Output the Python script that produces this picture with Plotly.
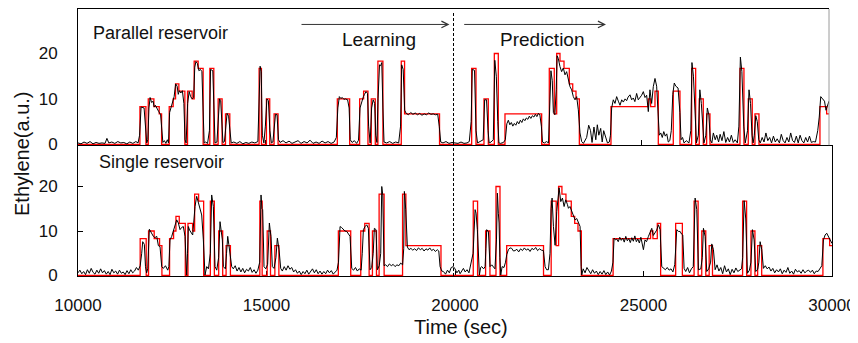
import plotly.graph_objects as go

# ---------------- data ----------------
# Target ethylene concentration (step function: value holds from each time until the next)
target_t = [10000, 11649, 11809, 11871, 12021, 12163, 12226, 12429, 12535, 12598, 12686, 12846,
            12917, 13040, 13094, 13200, 13333, 13511, 13617, 13732, 13838, 13928, 14043,
            14823, 14885, 15018, 15106, 15222, 15328, 16906, 17234, 17500, 17606, 17722,
            17810, 17917, 17987, 18120, 18609, 18697, 19628,
            20484, 20599, 20812, 20927, 21087, 21193, 21371, 22348,
            22551, 22684, 22748, 22836, 22943, 23084, 23175, 23262, 23351,
            24194, 25188, 25250, 25366, 25454, 25853, 26031, 26342, 26449, 26545, 26652,
            26742, 26830, 27629, 27735, 27850, 27956, 28028, 28135, 29759, 29937, 30000]
target_v = [0, 8.3, 0, 10, 8.3, 6.7, 0, 8.3, 10, 13.3, 11.7, 0,
            11.7, 10, 18.3, 16.7, 0, 16.7, 0, 10, 0, 6.7, 0,
            16.7, 0, 10, 0, 6.7, 0, 10, 0, 10, 11.7, 0,
            10, 0, 18.3, 0, 18.3, 6.7, 0,
            16.7, 0, 10, 0, 20, 0, 6.7, 0,
            16.7, 6.7, 20, 18.3, 16.7, 13.3, 11.7, 10, 0,
            8.3, 10, 8.3, 11.7, 0, 11.7, 0, 16.7, 0, 10, 0,
            6.7, 0, 16.7, 0, 10, 0, 6.7, 0, 8.3, 6.7, 6.7]

# Parallel reservoir output
par_t = [10000, 10080, 10160, 10240, 10320, 10400, 10480, 10560, 10640, 10720, 10770, 10820, 10900, 10980,
         11060, 11140, 11220, 11300, 11380, 11460, 11540, 11600, 11640, 11680, 11760, 11800, 11830, 11860,
         11890, 11920, 11960, 12000, 12030, 12060, 12100, 12150, 12200, 12230, 12260, 12300, 12340, 12380,
         12410, 12440, 12480, 12520, 12560, 12600, 12640, 12670, 12700, 12740, 12780, 12820, 12850, 12880,
         12920, 12960, 13000, 13040, 13080, 13110, 13140, 13180, 13220, 13260, 13300, 13330, 13360, 13400,
         13450, 13500, 13530, 13590, 13620, 13650, 13700, 13740, 13770, 13800, 13830, 13860, 13900, 13940,
         13970, 14010, 14050, 14080, 14150, 14230, 14310, 14390, 14470, 14550, 14630, 14710, 14790, 14830,
         14850, 14880, 14910, 14950, 14990, 15030, 15070, 15110, 15150, 15190, 15230, 15260, 15300, 15340,
         15380, 15460, 15540, 15620, 15700, 15780, 15860, 15940, 16020, 16100, 16180, 16260, 16340, 16420,
         16500, 16580, 16660, 16740, 16820, 16880, 16920, 16960, 17000, 17040, 17080, 17120, 17180, 17220,
         17250, 17300, 17360, 17420, 17470, 17510, 17560, 17600, 17630, 17670, 17710, 17740, 17780, 17820,
         17860, 17900, 17930, 17960, 17990, 18030, 18060, 18090, 18120, 18150, 18220, 18300, 18380, 18460,
         18540, 18590, 18620, 18660, 18700, 18740, 18800, 18860, 18920, 18980, 19040, 19100, 19160, 19220,
         19280, 19340, 19400, 19460, 19520, 19580, 19620, 19660, 19720, 19800, 19880, 19960,
         20040, 20120, 20200, 20280, 20360, 20420, 20470, 20500, 20560, 20600, 20640, 20700, 20790, 20830,
         20880, 20920, 20950, 21000, 21060, 21100, 21140, 21180, 21210, 21250, 21330, 21380, 21420, 21460,
         21500, 21540, 21580, 21620, 21660, 21700, 21740, 21780, 21820, 21860, 21900, 21940, 21980, 22020,
         22060, 22100, 22140, 22180, 22220, 22260, 22300, 22340, 22370, 22420, 22480, 22530, 22560, 22595,
         22630, 22660, 22700, 22735, 22760, 22791, 22836, 22880, 22924, 22969, 23013, 23058, 23102, 23146,
         23191, 23235, 23280, 23324, 23368, 23413, 23460, 23546, 23600, 23650, 23690, 23740, 23790, 23830,
         23870, 23920, 23960, 24000, 24050, 24100, 24150, 24180, 24212, 24256, 24300, 24345, 24390, 24434,
         24480, 24522, 24570, 24611, 24650, 24700, 24745, 24789, 24830, 24877, 24920, 24966, 25010, 25055,
         25100, 25144, 25188, 25232, 25277, 25321, 25366, 25410, 25440, 25480, 25520, 25560, 25600, 25640,
         25680, 25720, 25760, 25800, 25840, 25880, 25920, 25980, 26030, 26060, 26100, 26140, 26200, 26270,
         26320, 26350, 26390, 26440, 26470, 26520, 26560, 26600, 26640, 26670, 26720, 26760, 26800, 26840,
         26880, 26920, 26970, 27010, 27060, 27100, 27150, 27200, 27250, 27300, 27350, 27400, 27450, 27500,
         27560, 27600, 27640, 27680, 27730, 27770, 27830, 27870, 27910, 27950, 27980, 28010, 28050, 28090,
         28130, 28170, 28220, 28270, 28320, 28370, 28420, 28470, 28520, 28570, 28620, 28680, 28730, 28780,
         28830, 28880, 28930, 28980, 29030, 29080, 29130, 29180, 29230, 29280, 29330, 29380, 29430, 29480,
         29530, 29580, 29640, 29700, 29740, 29780, 29830, 29880, 29920, 29960, 30000]
par_v = [0.3, 0.1, 0.5, 0.2, 0.6, 0.1, 0.4, 0.2, 0.3, 0.2, 1.3, 0.3, 0.5, 0.2,
         0.6, 0.3, 0.4, 0.1, 0.5, 0.2, 0.6, 0.3, 2, 8.2, 8.0, 3, 0.3, 1,
         8, 10.3, 9.2, 9.5, 8.2, 8.6, 7.8, 7.2, 6.5, 3, 0.4, 0.8, 0.2, 1.0,
         0.3, 7, 8.4, 9.2, 10.5, 13.3, 12.8, 11, 11.8, 11.3, 11.8, 9, 1, 0.3,
         9, 11.6, 10.5, 10, 10.3, 17, 18.2, 17.8, 16.2, 16.5, 16, 8, 0.3, 0.5,
         0.2, 3, 16.5, 16.2, 6, 0.3, 0.5, 6, 10, 9.6, 6, 0.4, 0.6, 5,
         6.8, 6.2, 1.5, 0.3, 0.5, 0.2, 0.6, 0.1, 0.4, 0.2, 0.5, 0.3, 0.6, 10,
         17.2, 16, 2, 0.3, 4, 10, 9.6, 3, 0.3, 0.5, 5, 6.6, 6.5, 1,
         0.4, 0.8, 0.3, 0.7, 0.2, 0.5, 0.8, 0.2, 0.6, 0.3, 0.9, 0.2, 0.5, 0.2,
         0.7, 0.3, 0.6, 0.2, 0.5, 1.5, 8, 10.5, 10.1, 10.3, 9.9, 10, 9.8, 8,
         1, 0.4, 0.8, 0.2, 0.9, 8, 9.8, 10.5, 11, 11.6, 11.2, 4, 0.3, 8,
         9.8, 9, 2, 0.4, 10, 17.5, 17.3, 18, 8, 0.5, 0.3, 0.6, 0.2, 0.5,
         0.3, 4, 17.5, 16.5, 7.5, 6.8, 6.5, 7, 6.6, 6.9, 6.5, 6.8, 6.4, 6.7,
         6.5, 6.9, 6.6, 6.7, 6.5, 6.6, 4, 0.5, 0.3, 0.6, 0.2, 0.4,
         0.3, 0.2, 0.5, 0.2, 0.3, 0.6, 5, 16.5, 16.3, 3, 0.3, 0.6, 1, 9.8,
         9.8, 3, 0.3, 0.5, 1, 18.5, 15, 5, 0.3, 0.2, 0.4, 1, 4.5, 5.3,
         4.3, 4.8, 4, 4.6, 4.2, 5, 4.5, 5.3, 4.8, 5.6, 5.2, 5.8, 5.5, 6.2,
         5.7, 6.3, 6, 6.6, 6.1, 6.8, 6.5, 4, 0.5, 0.3, 0.6, 0.3, 10, 16.2,
         14, 7, 6.5, 12, 19.5, 18.9, 17.1, 16, 16.8, 15.3, 16, 14.2, 12.7, 12,
         10.5, 9.8, 10.5, 7.6, 2.5, 0.6, 0.2, 1.5, 4.2, 3, 0.4, 3.8, 1, 4.3,
         2, 3.5, 0.5, 3, 1.5, 0.3, 0.5, 2, 8, 9.8, 9, 10.5, 9.5, 8.6,
         9.8, 9.3, 10, 9.6, 10.4, 10.9, 9.8, 10.2, 9.4, 11.2, 9.8, 10.2, 10.8, 11.6,
         10.3, 10.8, 7.2, 12, 9, 12.7, 14.5, 12.8, 8, 2, 2.5, 1.5, 2.8, 1.8,
         2.3, 0.5, 0.8, 3, 11, 13.5, 12.8, 12.4, 7, 1, 1.5, 0.3, 0.8, 0.3,
         3, 18, 15, 5, 0.3, 2, 12, 9, 3, 0.3, 2, 8, 6.5, 1,
         0.3, 2.5, 1, 2, 0.5, 2.2, 0.8, 2.8, 0.4, 1.5, 0.5, 2, 0.4, 1,
         0.3, 4, 19.2, 16, 4, 0.3, 3, 12, 9, 2, 0.3, 2, 6.3, 5,
         1, 0.3, 1.5, 0.5, 2.5, 0.8, 1.5, 0.3, 1.8, 0.5, 1.2, 0.3, 2.2, 0.8,
         0.3, 1.5, 0.5, 2.5, 0.8, 0.4, 1.8, 0.3, 2, 0.8, 0.3, 1.5, 0.5, 1.8,
         0.4, 0.6, 0.5, 3, 6, 10.5, 10, 9.5, 7.5, 8.5, 9.5]

# Single reservoir output
sgl_t = [10000, 10050, 10100, 10150, 10200, 10250, 10300, 10350, 10400, 10450, 10500, 10550, 10600, 10650,
         10700, 10750, 10800, 10850, 10900, 10950, 11000, 11050, 11100, 11150, 11200, 11250, 11300, 11350,
         11400, 11450, 11500, 11550, 11600, 11650, 11690, 11716, 11760, 11790, 11820, 11850, 11892, 11930,
         11955, 11999, 12040, 12088, 12132, 12175, 12221, 12264, 12320, 12380, 12410, 12441, 12486, 12530,
         12573, 12618, 12662, 12706, 12750, 12794, 12839, 12883, 12905, 12927, 12960, 12989, 13042, 13070,
         13104, 13148, 13193, 13237, 13281, 13325, 13369, 13414, 13460, 13510, 13546, 13590, 13635, 13680,
         13730, 13767, 13800, 13829, 13856, 13910, 13940, 13971, 14000, 14033, 14077, 14120, 14170, 14220,
         14270, 14320, 14370, 14420, 14470, 14520, 14570, 14620, 14670, 14720, 14770, 14820, 14855, 14880,
         14899, 14934, 14980, 15030, 15076, 15100, 15120, 15155, 15200, 15250, 15288, 15333, 15377, 15420,
         15470, 15520, 15570, 15620, 15670, 15720, 15770, 15820, 15870, 15920, 15970, 16020, 16070, 16120,
         16170, 16220, 16270, 16320, 16370, 16420, 16470, 16520, 16570, 16620, 16670, 16720, 16770, 16820,
         16870, 16910, 16951, 16990, 17040, 17080, 17129, 17170, 17216, 17261, 17310, 17360, 17410, 17460,
         17510, 17540, 17570, 17614, 17659, 17702, 17730, 17747, 17790, 17830, 17861, 17906, 17941, 17990,
         18030, 18057, 18084, 18100, 18118, 18160, 18210, 18260, 18310, 18360, 18410, 18460, 18510, 18560,
         18610, 18640, 18657, 18694, 18737, 18780, 18830, 18880, 18930, 18980, 19030, 19080, 19130, 19180,
         19230, 19280, 19330, 19380, 19430, 19480, 19530, 19570, 19604, 19650, 19692, 19750, 19800, 19850,
         19900, 19957,
         20000, 20050, 20100, 20135, 20180, 20223, 20270, 20320, 20370, 20420, 20480, 20533, 20559, 20594,
         20620, 20647, 20680, 20709, 20760, 20798, 20820, 20842, 20886, 20930, 20975, 21019, 21060, 21100,
         21125, 21150, 21169, 21190, 21213, 21250, 21300, 21340, 21373, 21417, 21460, 21505, 21550, 21594,
         21640, 21690, 21740, 21790, 21840, 21890, 21940, 21990, 22040, 22090, 22140, 22190, 22240, 22290,
         22345, 22390, 22430, 22478, 22520, 22549, 22575, 22611, 22655, 22699, 22761, 22805, 22850, 22894,
         22938, 22980, 23009, 23050, 23097, 23141, 23185, 23230, 23274, 23318, 23345, 23362, 23400, 23450,
         23500, 23550, 23600, 23650, 23700, 23750, 23800, 23850, 23900, 23950, 24000, 24050, 24100, 24150,
         24190, 24220, 24260, 24291, 24330, 24370, 24410, 24450, 24490, 24530, 24570, 24610, 24650, 24690,
         24730, 24770, 24810, 24850, 24890, 24930, 24970, 24998, 25040, 25080, 25131, 25170, 25219, 25260,
         25308, 25350, 25396, 25440, 25484, 25530, 25580, 25630, 25680, 25730, 25780, 25830, 25882, 25930,
         25971, 26010, 26042, 26077, 26120, 26170, 26220, 26270, 26320, 26369, 26413, 26457, 26520, 26560,
         26590, 26634, 26678, 26730, 26780, 26811, 26855, 26900, 26950, 27000, 27050, 27100, 27150, 27200,
         27250, 27300, 27350, 27400, 27450, 27500, 27550, 27600, 27630, 27669, 27713, 27757, 27810, 27850,
         27890, 27934, 27978, 28030, 28060, 28093, 28137, 28181, 28230, 28280, 28330, 28380, 28430, 28480,
         28530, 28580, 28630, 28680, 28730, 28780, 28830, 28880, 28930, 28980, 29030, 29080, 29130, 29180,
         29230, 29280, 29330, 29380, 29430, 29480, 29530, 29580, 29630, 29680, 29730, 29773, 29817, 29860,
         29905, 29950, 30000]
sgl_v = [0.6, 1.2, 0.4, 0.9, 0.2, 1.3, 0.5, 1.6, 0.7, 0.3, 1.2, 0.5, 1.5, 0.6,
         1.1, 0.3, 0.9, 0.2, 1.4, 0.6, 1.0, 0.3, 1.2, 0.5, 0.8, 0.2, 1.1, 0.4,
         1.3, 0.6, 1.0, 1.8, 1.2, 2.2, 5, 7.6, 7, 2, 0.6, 1.5, 10.4, 9.8,
         9.5, 8.8, 8.5, 8.8, 6.7, 6.5, 2.0, 1.6, 2.2, 1.2, 2, 8.0, 8.8, 10,
         11, 12.5, 11.8, 10.3, 10.8, 11.0, 8.8, 0.1, 5, 11.0, 10.2, 9.9, 9.1, 12,
         15.5, 17.8, 16.3, 14.4, 13.6, 8.0, 0.1, 2.0, 1.5, 5, 18.1, 15.5, 2.0, 1.2,
         4, 12.1, 10, 8.0, 2.0, 1.5, 5, 8.8, 7, 5.0, 2.0, 1.5, 2.2, 1.0,
         1.8, 0.8, 1.6, 0.6, 1.4, 1.0, 1.8, 0.7, 1.3, 0.5, 1.2, 3, 18.1, 15,
         14.8, 2.0, 1.5, 2.5, 11.8, 10, 8.8, 2.0, 1.6, 4, 8.4, 5.8, 1.6, 1.0,
         2.0, 1.2, 2.2, 1.4, 1.8, 0.8, 1.3, 0.5, 1.0, 0.2, 0.9, 0.4, 1.2, 0.3,
         0.8, 1.5, 0.6, 1.3, 0.4, 1.0, 0.3, 0.9, 0.4, 1.2, 0.6, 1.1, 0.3, 0.8,
         1.2, 3, 11.0, 10.8, 10.3, 10, 9.9, 9.3, 8.8, 1.6, 1.2, 1.8, 1.0, 1.5,
         1.2, 5, 10.3, 11.0, 11.4, 10.6, 5, 1.3, 1.8, 5, 10.6, 10.3, 1.3, 2.2,
         5, 20, 18.1, 10, 2.2, 2.4, 2.0, 2.6, 2.2, 2.5, 2.0, 2.4, 2.2, 2.8,
         2.4, 6, 18.9, 14.8, 6.4, 5.8, 6.1, 5.7, 6.0, 5.6, 6.2, 5.8, 6.1, 5.5,
         6.0, 5.7, 6.2, 5.6, 5.9, 5.4, 5.8, 5.5, 2.0, 1.0, 0.9, 0.3, 1.2, 0.6,
         1.8, 2.0,
         1.5, 0.6, 1.2, 0.4, 1.0, 1.6, 0.8, 1.3, 0.6, 2.4, 5, 14.8, 14, 10.3,
         3, 0.1, 1.8, 2, 1.5, 2, 6, 10.3, 9.9, 2.0, 2.4, 2.0, 1.5, 8,
         18.5, 14, 11.8, 4, 0.1, 2.0, 1.8, 3, 4.7, 5.8, 6.2, 6.1, 5.5, 5.6,
         5.9, 5.3, 6.0, 5.6, 6.2, 5.7, 6.0, 5.4, 6.1, 5.8, 6.3, 5.6, 6.0, 5.7,
         5.6, 2.0, 1.3, 1.3, 5, 15, 17.4, 11, 6.8, 14.4, 19.7, 16.6, 17.4, 15.5,
         17, 16, 15.1, 15.5, 14.4, 13.2, 12.5, 12.8, 11.8, 11.0, 2.0, 0.1, 1.5, 0.6,
         1.8, 1.0, 0.4, 1.3, 0.5, 1.0, 0.2, 0.9, 0.3, 1.1, 0.2, 0.8, 0.1, 1.0,
         3, 8.4, 8.0, 8.2, 7.6, 8.6, 7.9, 8.4, 7.5, 8.8, 7.8, 8.3, 7.4, 8.5,
         7.7, 8.9, 7.6, 8.2, 7.3, 8.6, 7.2, 5.8, 8.0, 7.6, 8.8, 9.5, 10.6, 9.0,
         9.5, 10.2, 11.4, 10.3, 2.0, 1.6, 1.3, 1.8, 1.2, 1.5, 0.8, 2.5, 10.3, 9.9,
         9.9, 9.3, 9.1, 1.6, 0.9, 1.8, 0.6, 1.5, 2, 17.4, 14.8, 1.3, 1.5, 4,
         10.6, 8.8, 0.9, 1.5, 3, 7.1, 5.8, 1.3, 2.4, 1.0, 1.8, 0.4, 2.2, 0.8,
         1.5, 0.2, 1.4, 0.6, 1.7, 0.9, 1.2, 1.5, 4, 16.8, 12.7, 0.5, 1.2, 3,
         10.3, 8.0, 0.9, 1.4, 3, 7.6, 5.8, 1.6, 2.2, 1.5, 1.9, 1.0, 1.6, 0.6,
         1.3, 0.8, 1.5, 0.4, 1.2, 0.7, 1.8, 0.5, 1.0, 0.3, 1.4, 0.8, 1.1, 0.5,
         1.3, 0.6, 1.0, 1.2, 0.7, 1.2, 0.4, 1.0, 0.9, 1.6, 2.2, 8.0, 9.1, 9.5,
         8.8, 7.8, 7.2]

x_ticks = [10000, 15000, 20000, 25000, 30000]
y_ticks = [0, 10, 20]
split_time = 20000
learn_arrow = (15912, 19893)
pred_arrow = (20245, 24061)

# ---------------- layout helpers (window-pixel geometry) ----------------
WIN_W, WIN_H = 858, 343
OFF = 8  # default page body margin around the figure
W, H = WIN_W - OFF, WIN_H - OFF
FONT = "Liberation Sans, Arial, sans-serif"
TXT = "#111111"


def px(p):
    return min(1.0, max(0.0, (p - OFF) / W))


def py(p):
    return min(1.0, max(0.0, 1 - (p - OFF) / H))


fig = go.Figure()
fig.add_trace(go.Scatter(x=target_t, y=target_v, mode="lines", line=dict(color="#ff0000", width=1.3, shape="hv"),
                         xaxis="x", yaxis="y", showlegend=False, hoverinfo="skip"))
fig.add_trace(go.Scatter(x=par_t, y=par_v, mode="lines", line=dict(color="#000000", width=1),
                         xaxis="x", yaxis="y", showlegend=False, hoverinfo="skip"))
fig.add_trace(go.Scatter(x=target_t, y=target_v, mode="lines", line=dict(color="#ff0000", width=1.3, shape="hv"),
                         xaxis="x2", yaxis="y2", showlegend=False, hoverinfo="skip"))
fig.add_trace(go.Scatter(x=sgl_t, y=sgl_v, mode="lines", line=dict(color="#000000", width=1),
                         xaxis="x2", yaxis="y2", showlegend=False, hoverinfo="skip"))

common_x = dict(range=[10000, 30000], showgrid=False, zeroline=False, showline=True, linecolor="#000",
                linewidth=1, mirror=True, ticks="inside", ticklen=5, tickcolor="#000", tickvals=x_ticks,
                layer="below traces", fixedrange=True, automargin=False)
common_y = dict(showgrid=False, zeroline=False, showline=True, linecolor="#000", linewidth=1,
                tickvals=y_ticks, tickfont=dict(family=FONT, size=17, color=TXT),
                ticklabelstandoff=16, layer="below traces", fixedrange=True, automargin=False)

fig.update_layout(
    width=W, height=H, autosize=False,
    margin=dict(l=0, r=0, t=0, b=0, pad=0, autoexpand=False),
    paper_bgcolor="white", plot_bgcolor="white",
    font=dict(family=FONT, color=TXT),
    xaxis=dict(common_x, domain=[px(78), px(829)], anchor="y", showticklabels=False),
    yaxis=dict(common_y, domain=[py(145.2), py(9)], range=[-0.2, 29.8], anchor="x",
               mirror=False, ticks=""),
    xaxis2=dict(common_x, domain=[px(78), px(832)], anchor="y2", showticklabels=True,
                tickformat="d", tickfont=dict(family=FONT, size=17, color=TXT), ticklabelstandoff=13),
    yaxis2=dict(common_y, domain=[py(276.4), py(146)], range=[-0.2, 29.1], anchor="x2",
                mirror=True, ticks="inside", ticklen=5, tickcolor="#000"),
    shapes=[
        dict(type="line", xref="x domain", yref="y domain", x0=1, x1=1, y0=0, y1=1,
             line=dict(color="#9a9a9a", width=1)),
        dict(type="line", xref="x", yref="paper", x0=split_time, x1=split_time, y0=py(276), y1=py(11),
             line=dict(color="#000", width=1, dash="3px,2px")),
    ],
    annotations=[
        dict(xref="x", yref="y", axref="x", ayref="y", x=learn_arrow[1], y=26.4, ax=learn_arrow[0], ay=26.4,
             text="", showarrow=True, arrowhead=5, arrowsize=1.3, arrowwidth=1, arrowcolor="#333", standoff=0),
        dict(xref="x", yref="y", axref="x", ayref="y", x=pred_arrow[1], y=26.4, ax=pred_arrow[0], ay=26.4,
             text="", showarrow=True, arrowhead=5, arrowsize=1.3, arrowwidth=1, arrowcolor="#333", standoff=0),
        dict(xref="paper", yref="paper", x=px(379), y=py(40), text="Learning", showarrow=False,
             xanchor="center", yanchor="middle", font=dict(size=19, color=TXT)),
        dict(xref="paper", yref="paper", x=px(542.5), y=py(40), text="Prediction", showarrow=False,
             xanchor="center", yanchor="middle", font=dict(size=19, color=TXT)),
        dict(xref="paper", yref="paper", x=px(91), y=py(33), text="Parallel reservoir", showarrow=False,
             xanchor="left", yanchor="middle", font=dict(size=18, color=TXT)),
        dict(xref="paper", yref="paper", x=px(96.5), y=py(162.5), text="Single reservoir", showarrow=False,
             xanchor="left", yanchor="middle", font=dict(size=18, color=TXT)),
        dict(xref="paper", yref="paper", x=px(461), y=py(327), text="Time (sec)", showarrow=False,
             xanchor="center", yanchor="middle", font=dict(size=20, color=TXT)),
        dict(xref="paper", yref="paper", x=px(22), y=py(154), text="Ethylene(a.u.)", showarrow=False,
             textangle=-90, xanchor="center", yanchor="middle", font=dict(size=20, color=TXT)),
    ],
)

fig.write_html("out.html")
